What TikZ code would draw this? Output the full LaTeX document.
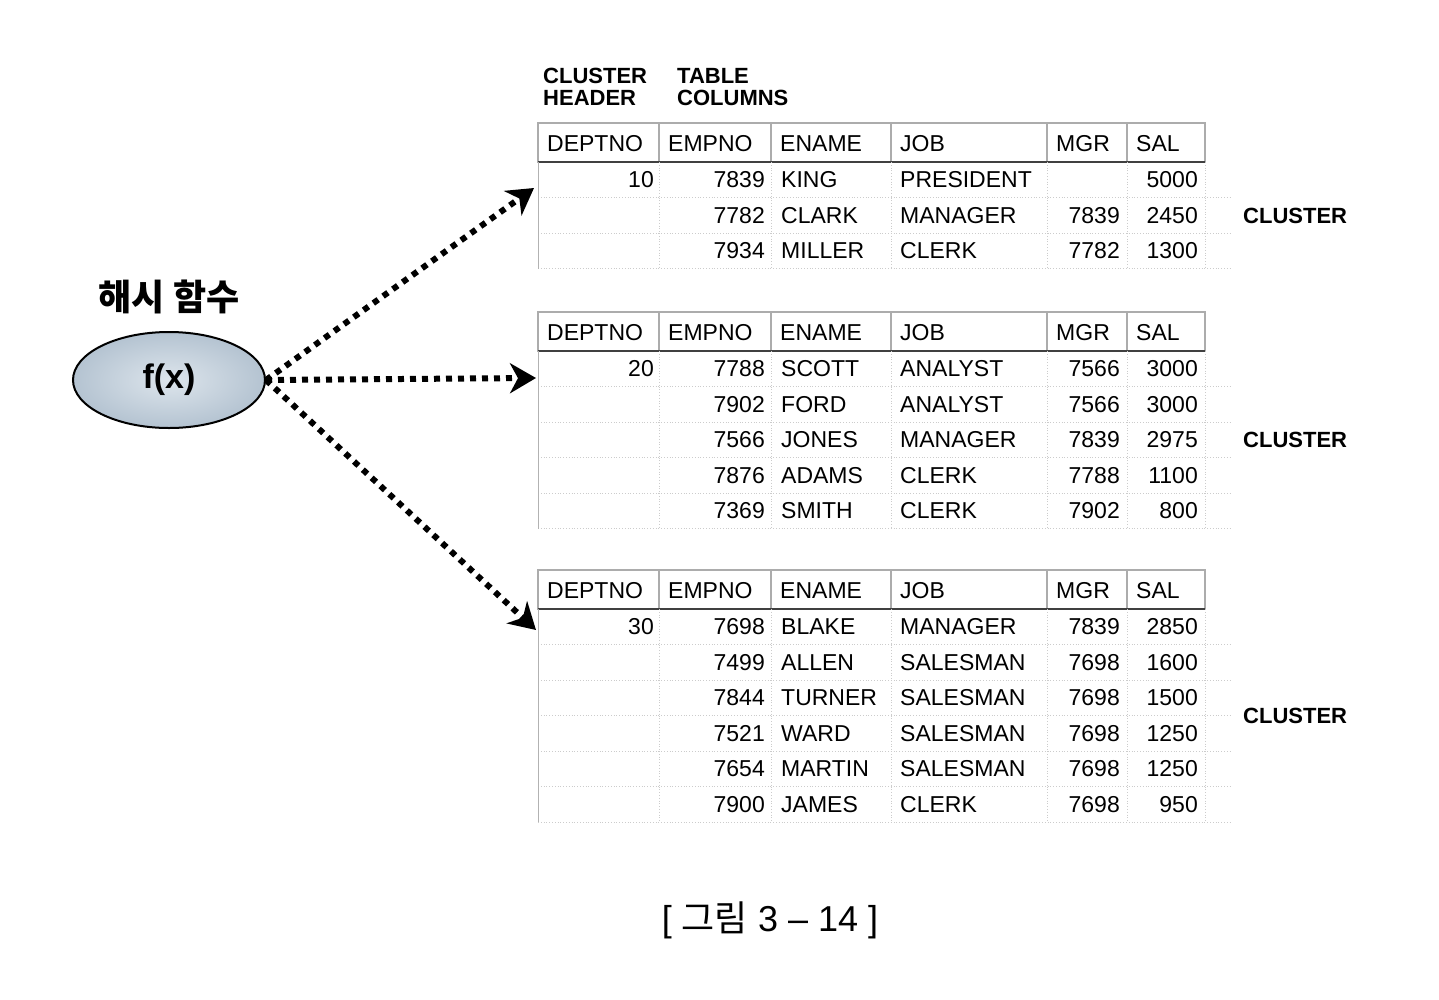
\documentclass[tikz,border=0pt]{standalone}
\usepackage{fontspec}
\setmainfont{Liberation Sans}
\newfontfamily\krfont{Noto Sans CJK KR}
\usetikzlibrary{arrows.meta,shapes.geometric}

\definecolor{hashin}{HTML}{DDE5EC}
\definecolor{hashout}{HTML}{B4C3D1}

\tikzset{
    txt/.style={font=\fontsize{23}{26}\selectfont, inner sep=0pt, text height=16pt, text depth=0pt},
    lbl/.style={font=\fontsize{22}{22}\selectfont\bfseries, inner sep=0pt, anchor=west, text height=16pt, text depth=0pt},
    headbox/.style={draw=gray!65, line width=1.2pt},
    gridline/.style={draw=gray!40, line width=0.8pt, dotted},
    hashline/.style={line width=6pt, dash pattern=on 6pt off 6pt, -{Stealth[length=26pt,width=30pt,inset=8pt]}},
}

% one cluster: #1 top of header, #2 deptno, #3 rows
\newcommand{\emptable}[3]{
    % header cells
    \foreach \xa/\xb/\col in {538/659/DEPTNO, 659/771/EMPNO, 771/891/ENAME, 891/1047/JOB, 1047/1127/MGR, 1127/1205/SAL}{
        \draw[headbox] (\xa,#1) rectangle (\xb,#1+39);
        \node[txt, anchor=west] (h#2-\col) at (\xa+9,#1+20) {\col};
    }
    \draw[line width=2pt, black!75] (538,#1+39) -- (1205,#1+39);
    \node[txt, anchor=east] (dept#2) at (654,#1+56.5) {#2};
    % rows
    \foreach \e/\n/\j/\m/\s [count=\i from 0] in {#3}{
        \pgfmathsetmacro\yt{#1+39+35.5*\i}
        \pgfmathsetmacro\yb{\yt+35.5}
        \pgfmathsetmacro\yc{\yt+17.5}
        \draw[gridline] (538,\yb) -- (1230,\yb);
        \foreach \x in {659,771,891,1047,1127,1205}{
            \draw[gridline] (\x,\yt) -- (\x,\yb);
        }
        \draw[gray!60, line width=1pt] (538,\yt) -- (538,\yb);
        \node[txt, anchor=east] (emp\e) at (765,\yc) {\e};
        \node[txt, anchor=west] (ename\e) at (781,\yc) {\n};
        \node[txt, anchor=west] (job\e) at (900,\yc) {\j};
        \node[txt, anchor=east] (mgr\e) at (1120,\yc) {\m};
        \node[txt, anchor=east] (sal\e) at (1198,\yc) {\s};
    }
}

\begin{document}
\begin{tikzpicture}[x=1pt, y=-1pt]
    \useasboundingbox (0,0) rectangle (1439,999);

    % Column titles
    \node[lbl] (chead1) at (543,75) {CLUSTER};
    \node[lbl] (chead2) at (543,97) {HEADER};
    \node[lbl] (tcols1) at (677,75) {TABLE};
    \node[lbl] (tcols2) at (677,97) {COLUMNS};

    % Clusters
    \emptable{123}{10}{7839/KING/PRESIDENT//5000, 7782/CLARK/MANAGER/7839/2450, 7934/MILLER/CLERK/7782/1300}
    \emptable{312}{20}{7788/SCOTT/ANALYST/7566/3000, 7902/FORD/ANALYST/7566/3000, 7566/JONES/MANAGER/7839/2975, 7876/ADAMS/CLERK/7788/1100, 7369/SMITH/CLERK/7902/800}
    \emptable{570}{30}{7698/BLAKE/MANAGER/7839/2850, 7499/ALLEN/SALESMAN/7698/1600, 7844/TURNER/SALESMAN/7698/1500, 7521/WARD/SALESMAN/7698/1250, 7654/MARTIN/SALESMAN/7698/1250, 7900/JAMES/CLERK/7698/950}

    \node[lbl] (cl10) at (1243,215) {CLUSTER};
    \node[lbl] (cl20) at (1243,439) {CLUSTER};
    \node[lbl] (cl30) at (1243,715) {CLUSTER};

    % Hash function
    \node[font=\krfont\fontsize{36}{36}\selectfont\bfseries] (hashlbl) at (169,297) {해시 함수};
    \node[ellipse, draw=black, line width=2pt, inner color=hashin, outer color=hashout,
          minimum width=192pt, minimum height=96pt, font=\fontsize{34}{34}\selectfont\bfseries] (hash) at (169,380) {f(x)};

    \coordinate (in10) at (534,188);
    \coordinate (in20) at (536,378);
    \coordinate (in30) at (536,630);
    \foreach \d in {10,20,30}{
        \draw[hashline] (hash.east) -- (in\d);
    }

    % Caption
    \node[font=\fontsize{36}{36}\selectfont] (caption) at (770,920) {[ {\krfont 그림} 3 – 14 ]};
\end{tikzpicture}
\end{document}
